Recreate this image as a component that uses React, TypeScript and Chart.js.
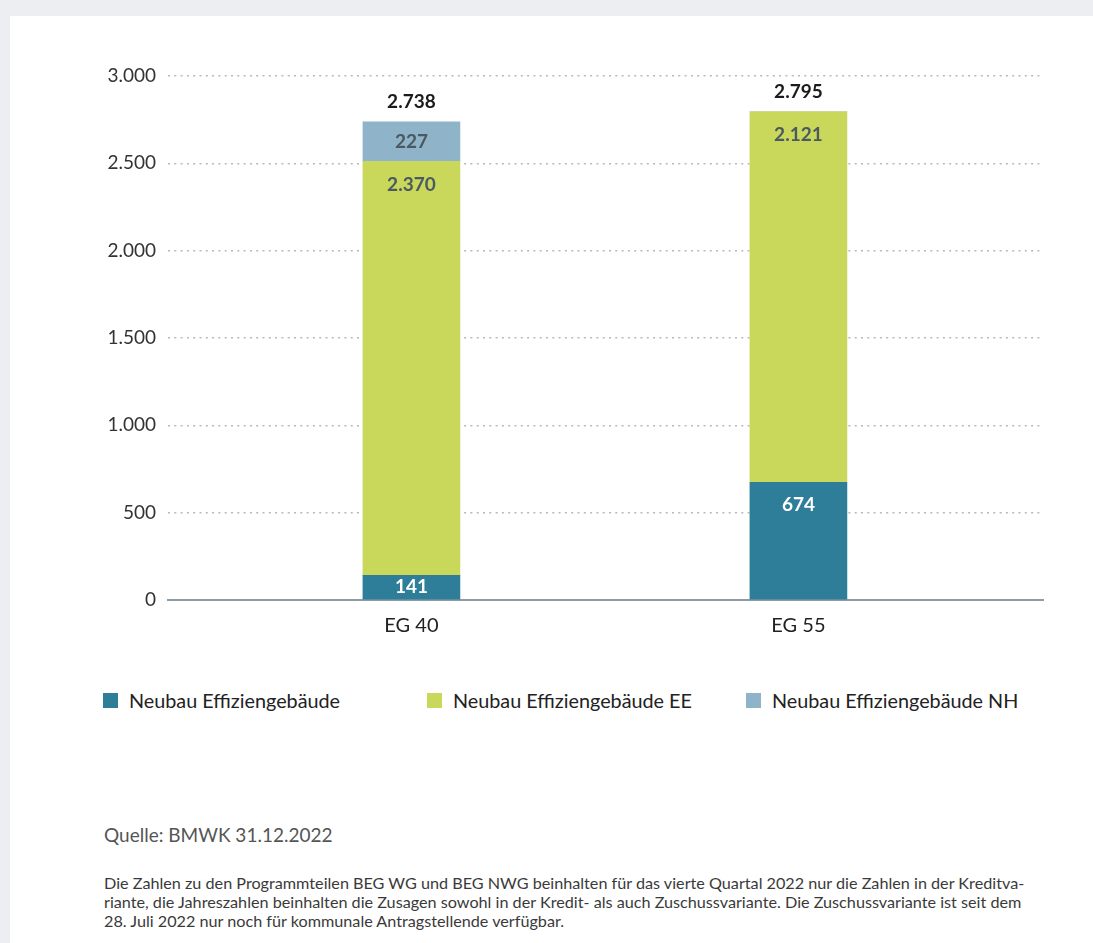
import React, { useEffect, useRef } from 'react';
import { Chart, registerables } from 'chart.js';

Chart.register(...registerables);

const categories = ['EG 40', 'EG 55'];
const seriesNames = ['Neubau Effiziengebäude', 'Neubau Effiziengebäude EE', 'Neubau Effiziengebäude NH'];
const neubauEffizienz = [141, 674];
const neubauEffizienzEE = [2370, 2121];
const neubauEffizienzNH = [227, 0];
const yTickValues = [0, 500, 1000, 1500, 2000, 2500, 3000];

const seriesValues = [neubauEffizienz, neubauEffizienzEE, neubauEffizienzNH];
const seriesColors = ['#2f7e99', '#c9d85b', '#8fb4c9'];
const valueLabelColors = ['#ffffff', '#4b5961', '#4b5961'];
const FONT = 'Lato, "Open Sans", sans-serif';
const X_MIN = -0.629;
const X_MAX = 1.632;

const fmt = (n: number) => String(Math.round(n)).replace(/\B(?=(\d{3})+(?!\d))/g, '.');

const labelPlugin = {
  id: 'barLabels',
  afterDatasetsDraw(chart: any) {
    const ctx = chart.ctx;
    ctx.save();
    ctx.font = `bold 19px ${FONT}`;
    ctx.textAlign = 'center';
    ctx.textBaseline = 'middle';
    chart.data.datasets.forEach((ds: any, di: number) => {
      const meta = chart.getDatasetMeta(di);
      meta.data.forEach((bar: any, i: number) => {
        const v = ds.data[i].y;
        if (!v) return;
        const { x, y, base } = bar.getProps(['x', 'y', 'base'], true);
        const h = base - y;
        ctx.fillStyle = valueLabelColors[di];
        ctx.fillText(fmt(v), x, y + Math.min(23, h / 2));
      });
    });
    categories.forEach((_, i) => {
      const total = seriesValues.reduce((s, arr) => s + arr[i], 0);
      const x = chart.scales.x.getPixelForValue(i);
      const yTop = chart.scales.y.getPixelForValue(total);
      ctx.fillStyle = '#1b1b1b';
      ctx.fillText(fmt(total), x, yTop - 20);
    });
    ctx.restore();
  },
};

export default function App() {
  const ref = useRef<HTMLCanvasElement | null>(null);

  useEffect(() => {
    if (!ref.current) return;
    const chart = new Chart(ref.current, {
      type: 'bar',
      data: {
        datasets: seriesNames.map((name, di) => ({
          label: name,
          data: seriesValues[di].map((v, i) => ({ x: i, y: v })),
          backgroundColor: seriesColors[di],
          borderWidth: 0,
          barThickness: 97,
        })),
      },
      options: {
        animation: false,
        responsive: false,
        maintainAspectRatio: false,
        events: [],
        layout: { padding: { top: 76, right: 50, bottom: 0, left: 0 } },
        plugins: { legend: { display: false }, tooltip: { enabled: false } },
        scales: {
          x: {
            type: 'linear',
            min: X_MIN,
            max: X_MAX,
            offset: false,
            bounds: 'data',
            stacked: true,
            grid: { display: false, drawTicks: false },
            border: { display: true, color: '#8e9ca8', width: 2 },
            afterBuildTicks: (s: any) => {
              s.ticks = categories.map((_, i) => ({ value: i }));
              s.min = X_MIN;
              s.max = X_MAX;
            },
            ticks: {
              callback: (v: any) => categories[v] ?? '',
              font: { size: 20, family: FONT },
              color: '#222',
              padding: 14,
              autoSkip: false,
              maxRotation: 0,
            },
            afterFit: (s: any) => {
              s.height = 60;
            },
          },
          y: {
            stacked: true,
            min: 0,
            max: 3000,
            afterBuildTicks: (s: any) => {
              s.ticks = yTickValues.map((v) => ({ value: v }));
            },
            grid: { color: '#b8b8b8', lineWidth: 1.5, drawTicks: false },
            border: { display: false, dash: [2, 4.3] },
            ticks: {
              callback: (v: any) => fmt(Number(v)),
              font: { size: 19, family: FONT },
              color: '#333',
              padding: 12,
            },
            afterFit: (s: any) => {
              s.width = 168;
            },
          },
        },
      } as any,
      plugins: [labelPlugin],
    });
    return () => chart.destroy();
  }, []);

  const legendLefts = [103, 427, 746];

  return (
    <div style={{ position: 'fixed', inset: 0, background: '#eceef2', overflow: 'hidden', fontFamily: FONT }}>
      <div style={{ position: 'absolute', left: 10, top: 16, right: 0, bottom: 0, background: '#ffffff' }} />
      <canvas ref={ref} width={1093} height={660} style={{ position: 'absolute', left: 0, top: 0, width: 1093, height: 660 }} />
      {seriesNames.map((name, i) => (
        <div key={name} style={{ position: 'absolute', left: legendLefts[i], top: 686, height: 28, display: 'flex', alignItems: 'center', whiteSpace: 'nowrap' }}>
          <span style={{ display: 'inline-block', width: 15, height: 15, background: seriesColors[i], marginRight: 11 }} />
          <span style={{ fontSize: 19.8, color: '#222' }}>{name}</span>
        </div>
      ))}
      <div style={{ position: 'absolute', left: 104, top: 822, fontSize: 19, color: '#555', whiteSpace: 'nowrap', lineHeight: '26px' }}>
        Quelle: BMWK 31.12.2022
      </div>
      <div style={{ position: 'absolute', left: 104, top: 873, fontSize: 16.2, color: '#3a3a3a', whiteSpace: 'nowrap', lineHeight: '19px' }}>
        Die Zahlen zu den Programmteilen BEG WG und BEG NWG beinhalten für das vierte Quartal 2022 nur die Zahlen in der Kreditva-
        <br />
        riante, die Jahreszahlen beinhalten die Zusagen sowohl in der Kredit- als auch Zuschussvariante. Die Zuschussvariante ist seit dem
        <br />
        28. Juli 2022 nur noch für kommunale Antragstellende verfügbar.
      </div>
    </div>
  );
}
